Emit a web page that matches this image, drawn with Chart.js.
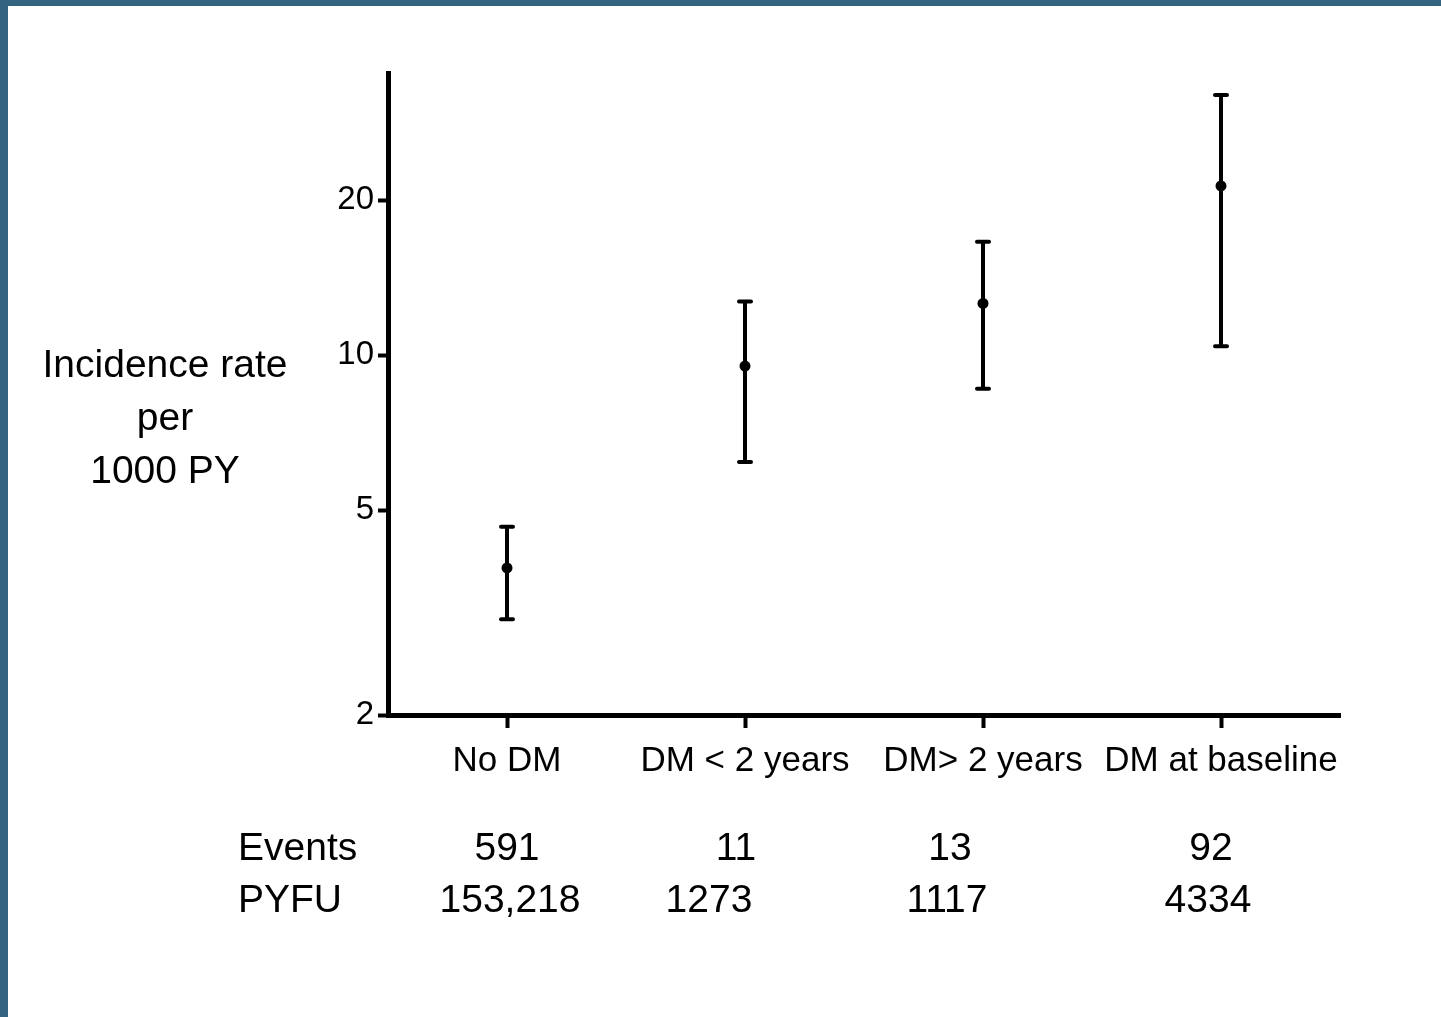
<!DOCTYPE html>
<html>
<head>
<meta charset="utf-8">
<script src="https://cdn.jsdelivr.net/npm/chart.js@4"></script>
<style>
  html, body { margin: 0; padding: 0; background: #fff; }
  body { width: 1433px; height: 1011px; border-top: 6px solid #33637f; border-left: 8px solid #33637f; overflow: hidden; }
  #wrap { width: 1433px; height: 1011px; position: relative; }
</style>
</head>
<body>
<div id="wrap"><canvas id="grafico"></canvas></div>
<script>
const categorias = ['No DM', 'DM < 2 years', 'DM> 2 years', 'DM at baseline'];
const taxas = [3.86, 9.52, 12.6, 21.3];
const inferior = [3.07, 6.2, 8.6, 10.4];
const superior = [4.64, 12.7, 16.6, 32.0];
const yTicks = [2, 5, 10, 20];
const eventos = ['591', '11', '13', '92'];
const pyfu = ['153,218', '1273', '1117', '4334'];
const tituloY = ['Incidence rate', 'per', '1000 PY'];

const fonte = '"Liberation Sans", Arial, sans-serif';

// barras de erro desenhadas com as escalas do grafico
const barrasErro = {
  id: 'barrasErro',
  beforeDatasetsDraw(chart) {
    let ctx = chart.ctx
    let x = chart.scales.x
    let y = chart.scales.y
    ctx.save()
    ctx.strokeStyle = '#000'
    ctx.lineWidth = 4
    ctx.lineCap = 'round'
    categorias.forEach((c, i) => {
      let px = x.getPixelForValue(i)
      let yLo = y.getPixelForValue(inferior[i])
      let yHi = y.getPixelForValue(superior[i])
      ctx.beginPath()
      ctx.moveTo(px, yLo); ctx.lineTo(px, yHi)
      ctx.moveTo(px - 6, yLo); ctx.lineTo(px + 6, yLo)
      ctx.moveTo(px - 6, yHi); ctx.lineTo(px + 6, yHi)
      ctx.stroke()
    })
    ctx.restore()
  }
};

// textos: titulo do eixo e tabela de eventos
const textos = {
  id: 'textos',
  afterDraw(chart) {
    let ctx = chart.ctx
    let x = chart.scales.x
    ctx.save()
    ctx.fillStyle = '#000'
    ctx.textBaseline = 'middle'
    ctx.textAlign = 'center'
    ctx.font = '39px ' + fonte
    tituloY.forEach((t, i) => ctx.fillText(t, 157, 360 + i * 53))

    ctx.textAlign = 'left'
    ctx.font = '39px ' + fonte
    ctx.fillText('Events', 230, 843)
    ctx.fillText('PYFU', 230, 895)
    ctx.textAlign = 'center'
    let desvioEv = [0, -9, -33, -10]
    let desvioPy = [3, -36, -36, -13]
    eventos.forEach((t, i) => ctx.fillText(t, x.getPixelForValue(i) + desvioEv[i], 843))
    pyfu.forEach((t, i) => ctx.fillText(t, x.getPixelForValue(i) + desvioPy[i], 895))
    ctx.restore()
  }
};

new Chart(document.getElementById('grafico').getContext('2d'), {
  type: 'line',
  data: {
    labels: categorias,
    datasets: [{
      data: taxas,
      showLine: false,
      pointRadius: 5.5,
      pointBackgroundColor: '#000',
      pointBorderColor: '#000',
      pointBorderWidth: 0
    }]
  },
  options: {
    responsive: true,
    maintainAspectRatio: false,
    animation: false,
    layout: { padding: { left: 300, right: 101, top: 67, bottom: 222 } },
    plugins: { legend: { display: false }, tooltip: { enabled: false } },
    scales: {
      x: {
        offset: true,
        grid: { display: true, drawOnChartArea: false, tickLength: 13, tickWidth: 4, tickColor: '#000', offset: false },
        border: { display: true, color: '#000', width: 5 },
        ticks: { color: '#000', font: { family: fonte, size: 35 }, padding: 12, maxRotation: 0, autoSkip: false },
        afterFit(s) { s.height = 80 }
      },
      y: {
        type: 'logarithmic',
        min: 2,
        max: 35.3,
        afterBuildTicks(s) { s.ticks = yTicks.map(v => ({ value: v })) },
        grid: { display: true, drawOnChartArea: false, tickLength: 10, tickWidth: 4, tickColor: '#000' },
        border: { display: true, color: '#000', width: 5 },
        ticks: { color: '#000', font: { family: fonte, size: 33 }, padding: 4, callback: v => String(v) },
        afterFit(s) { s.width = 80 }
      }
    }
  },
  plugins: [barrasErro, textos]
});
</script>
</body>
</html>
